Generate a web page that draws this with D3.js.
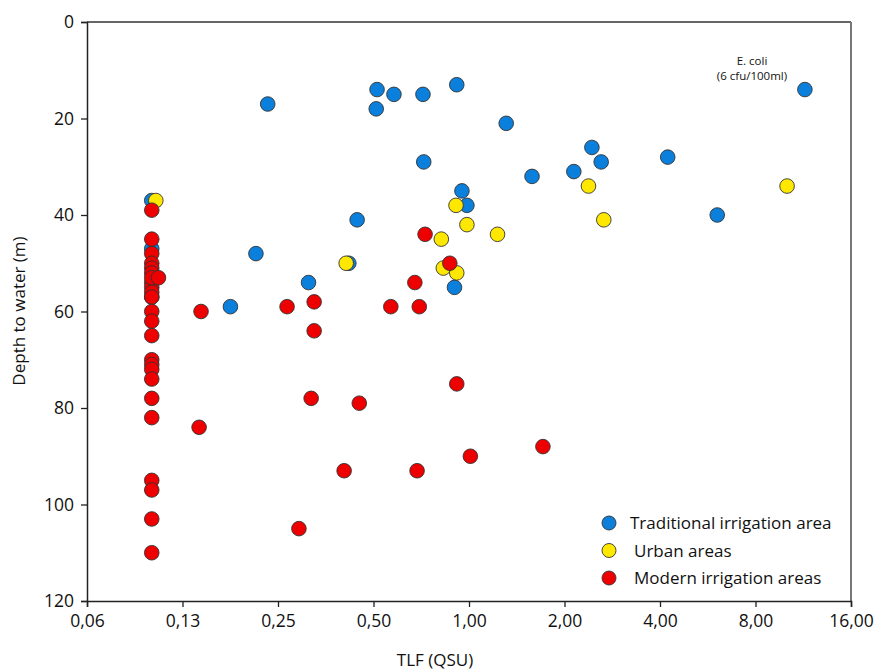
<!DOCTYPE html>
<html>
<head>
<meta charset="utf-8">
<script src="https://cdn.jsdelivr.net/npm/d3@7"></script>
<style>
  body { margin: 0; background: #fff; }
  svg text { font-family: "Open Sans", "Noto Sans", sans-serif; fill: #111; }
</style>
</head>
<body>
<svg id="chart"></svg>
<script>
const width = 876;
const height = 671;

// TLF (QSU) and depth to water (m), per land-use group
const tradTLF   = [0.1, 0.1, 0.1, 0.232, 0.513, 0.51, 0.58, 0.716, 0.915, 1.31, 0.72, 0.95, 0.985,
                   0.213, 0.444, 0.312, 0.177, 0.418, 0.90, 1.58, 2.14, 2.44, 2.61, 4.23, 6.06, 11.45];
const tradDepth = [37, 47, 57, 17, 14, 18, 15, 15, 13, 21, 29, 35, 38,
                   48, 41, 54, 59, 50, 55, 32, 31, 26, 29, 28, 40, 14];

const urbanTLF   = [0.103, 0.41, 0.91, 0.985, 1.23, 0.818, 2.38, 2.66, 0.83, 0.915, 10.06];
const urbanDepth = [37, 50, 38, 42, 44, 45, 34, 41, 51, 52, 34];

const modernTLF   = [0.1, 0.1, 0.1, 0.1, 0.1, 0.1, 0.1, 0.1, 0.1, 0.1, 0.1, 0.1, 0.1, 0.1, 0.1,
                     0.1, 0.1, 0.1, 0.1, 0.1, 0.1, 0.1, 0.1, 0.1, 0.105,
                     0.141, 0.291, 0.143, 0.267, 0.325, 0.325, 0.567, 0.318, 0.451, 0.727,
                     0.675, 0.87, 0.697, 0.915, 0.404, 0.686, 1.01, 1.71];
const modernDepth = [39, 45, 48, 50, 51, 52, 54, 55, 56, 57, 60, 62, 65, 70, 71,
                     72, 74, 78, 82, 95, 97, 103, 110, 53, 53,
                     84, 105, 60, 59, 58, 64, 59, 78, 79, 44,
                     54, 50, 59, 75, 93, 93, 90, 88];

const xTicks = [0.0625, 0.125, 0.25, 0.5, 1, 2, 4, 8, 16];
const xTickLabels = ["0,06", "0,13", "0,25", "0,50", "1,00", "2,00", "4,00", "8,00", "16,00"];
const yTicks = [0, 20, 40, 60, 80, 100, 120];

const groups = ["Traditional irrigation area", "Urban areas", "Modern irrigation areas"];
const colors = ["#0a7fdc", "#ffe800", "#ee0000"];

const margin = {top: 22, right: 25, bottom: 70, left: 87};

const svg = d3.select("#chart")
    .attr("width", width)
    .attr("height", height);

const x = d3.scaleLog().base(2)
    .domain([0.0625, 16])
    .range([margin.left, width - margin.right]);

const y = d3.scaleLinear()
    .domain([0, 120])
    .range([margin.top, height - margin.bottom]);

// frame top + right
svg.append("line")
    .attr("x1", margin.left).attr("x2", width - margin.right)
    .attr("y1", margin.top).attr("y2", margin.top)
    .attr("stroke", "#333").attr("stroke-width", 1.5);
svg.append("line")
    .attr("x1", width - margin.right).attr("x2", width - margin.right)
    .attr("y1", margin.top).attr("y2", height - margin.bottom)
    .attr("stroke", "#777").attr("stroke-width", 2);

const xAxis = svg.append("g")
    .attr("transform", `translate(0,${height - margin.bottom})`)
    .call(d3.axisBottom(x)
        .tickValues(xTicks)
        .tickFormat((d, i) => xTickLabels[i])
        .tickSize(6)
        .tickPadding(8));

const yAxis = svg.append("g")
    .attr("transform", `translate(${margin.left},0)`)
    .call(d3.axisLeft(y)
        .tickValues(yTicks)
        .tickSize(6)
        .tickPadding(7));

[xAxis, yAxis].forEach(a => {
    a.select(".domain").attr("stroke", "#222").attr("stroke-width", 1.5);
    a.selectAll(".tick line").attr("stroke", "#222").attr("stroke-width", 1.3);
    a.selectAll(".tick text").style("font-size", "17.5px").attr("fill", "#111");
});

svg.append("text")
    .attr("x", 435).attr("y", 666)
    .attr("text-anchor", "middle")
    .style("font-size", "17px")
    .text("TLF (QSU)");

svg.append("text")
    .attr("transform", "translate(25,311) rotate(-90)")
    .attr("text-anchor", "middle")
    .style("font-size", "17px")
    .text("Depth to water (m)");

const series = [
    {tlf: tradTLF, depth: tradDepth},
    {tlf: urbanTLF, depth: urbanDepth},
    {tlf: modernTLF, depth: modernDepth}
];

series.forEach((s, k) => {
    svg.append("g")
        .selectAll("circle")
        .data(s.tlf.map((v, i) => [v, s.depth[i]]))
        .join("circle")
            .attr("cx", d => x(d[0]))
            .attr("cy", d => y(d[1]))
            .attr("r", 7.3)
            .attr("fill", colors[k])
            .attr("stroke", "#333")
            .attr("stroke-width", 0.9);
});

// annotation
svg.append("text")
    .attr("x", 752).attr("y", 65)
    .attr("text-anchor", "middle")
    .style("font-size", "11.5px")
    .text("E. coli");
svg.append("text")
    .attr("x", 752).attr("y", 80)
    .attr("text-anchor", "middle")
    .style("font-size", "11.5px")
    .text("(6 cfu/100ml)");

// legend
const legend = svg.append("g");
groups.forEach((g, i) => {
    legend.append("circle")
        .attr("cx", 609).attr("cy", 523 + i * 27.5)
        .attr("r", 7)
        .attr("fill", colors[i])
        .attr("stroke", "#333")
        .attr("stroke-width", 0.9);
    legend.append("text")
        .attr("x", i === 0 ? 630 : 634).attr("y", 529 + i * 27.5)
        .style("font-size", "17px")
        .text(g);
});
</script>
</body>
</html>
